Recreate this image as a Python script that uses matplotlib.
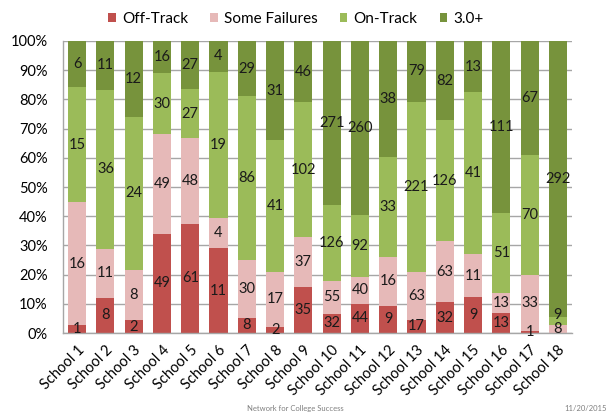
import matplotlib
matplotlib.use("Agg")
import matplotlib.pyplot as plt
import numpy as np

plt.rcParams['font.family'] = ['Lato', 'DejaVu Sans']

schools = [f"School {i}" for i in range(1, 19)]
off_track = [1, 8, 2, 49, 61, 11, 8, 2, 35, 32, 44, 9, 17, 32, 9, 13, 1, 0]
some_failures = [16, 11, 8, 49, 48, 4, 30, 17, 37, 55, 40, 16, 63, 63, 11, 13, 33, 8]
on_track = [15, 36, 24, 30, 27, 19, 86, 41, 102, 126, 92, 33, 221, 126, 41, 51, 70, 9]
gpa_3plus = [6, 11, 12, 16, 27, 4, 29, 31, 46, 271, 260, 38, 79, 82, 13, 111, 67, 292]

series = [
    ("Off-Track", off_track, "#C0504D"),
    ("Some Failures", some_failures, "#E6B9B8"),
    ("On-Track", on_track, "#9BBB59"),
    ("3.0+", gpa_3plus, "#77933C"),
]

counts = np.array([s[1] for s in series], dtype=float)
totals = counts.sum(axis=0)
shares = counts / totals * 100

fig = plt.figure(figsize=(6.10, 4.17), dpi=100)
ax = fig.add_axes([0.1033, 0.2014, 0.8344, 0.7003])

x = np.arange(len(schools))
bottom = np.zeros(len(schools))
last_label_y = np.full(len(schools), -100.0)
min_gap = 5.0  # keep stacked labels in the same bar from colliding
for (name, vals, color), pct in zip(series, shares):
    ax.bar(x, pct, width=0.64, bottom=bottom, color=color, label=name, zorder=2)
    for i, (xi, v, b, p) in enumerate(zip(x, vals, bottom, pct)):
        if v > 0:
            y = max(b + p / 2, last_label_y[i] + min_gap)
            ax.text(xi, y, str(v), ha="center", va="center",
                    fontsize=10.5, color="#1a1a1a", zorder=3)
            last_label_y[i] = y
    bottom += pct

ax.set_xlim(-0.5, len(schools) - 0.5)
ax.set_ylim(0, 100)
ax.set_yticks(np.arange(0, 101, 10))
ax.set_yticklabels([f"{v}%" for v in range(0, 101, 10)], fontsize=10.5)
ax.set_xticks(x)
ax.set_xticklabels(schools, rotation=45, ha="right", rotation_mode="anchor", fontsize=10.5)
ax.tick_params(axis="y", length=0, pad=11)
ax.tick_params(axis="x", length=0, pad=7)
ax.yaxis.grid(True, color="#A6A6A6", linewidth=1.0, zorder=0)
ax.set_axisbelow(True)
for side in ["top", "right"]:
    ax.spines[side].set_visible(False)
for side in ["left", "bottom"]:
    ax.spines[side].set_color("#A6A6A6")
    ax.spines[side].set_linewidth(1.0)

fig.legend(loc="upper center", bbox_to_anchor=(0.485, 1.005), ncol=4, frameon=False,
           fontsize=11, handlelength=0.5, handleheight=0.5, handletextpad=0.4,
           columnspacing=1.45)

fig.text(0.484, 0.012, "Network for College Success", ha="center", va="bottom",
         fontsize=5.5, color="#7F7F7F")
fig.text(0.995, 0.012, "11/20/2015", ha="right", va="bottom",
         fontsize=5.5, color="#7F7F7F")

fig.savefig("out.png", dpi=100)
